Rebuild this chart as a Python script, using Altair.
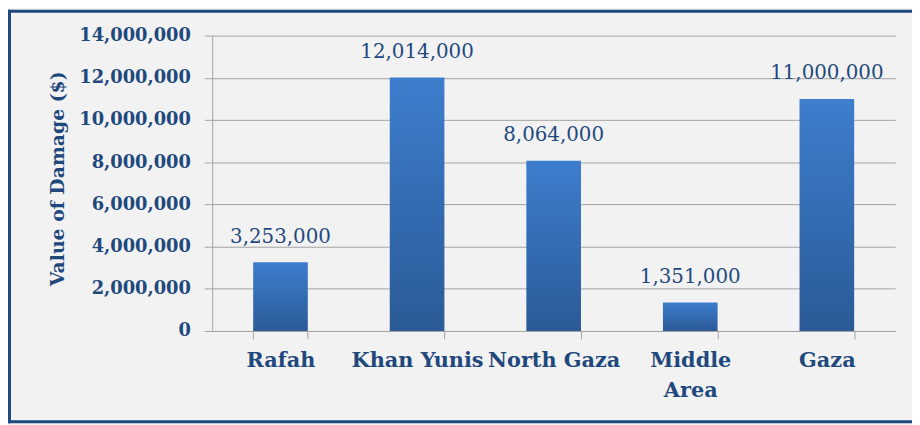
import altair as alt
import pandas as pd

# ---- data ----
categories = ["Rafah", "Khan Yunis", "North Gaza", "Middle\nArea", "Gaza"]
values = [3253000, 12014000, 8064000, 1351000, 11000000]
y_ticks = [0, 2000000, 4000000, 6000000, 8000000, 10000000, 12000000, 14000000]
y_title = "Value of Damage ($)"

df = pd.DataFrame({"region": categories, "damage": values})

# ---- style ----
TEXT = "#1f497d"
GRID = "#a3a3a3"
BG = "#f2f2f2"
FRAME = "#1f497d"
FONT = "DejaVu Serif"

W, H = 689, 298
PAD = {"left": 206, "top": 26, "right": 17, "bottom": 93}
TOTAL_W = W + PAD["left"] + PAD["right"]
TOTAL_H = H + PAD["top"] + PAD["bottom"]

x_enc = alt.X(
    "region:N",
    sort=categories,
    scale=alt.Scale(paddingInner=0.6, paddingOuter=0.3),
    axis=alt.Axis(
        title=None,
        labelAngle=0,
        tickBand="extent",
        tickSize=8,
        tickColor=GRID,
        domainColor=GRID,
        labelFont=FONT,
        labelFontSize=21,
        labelFontWeight="bold",
        labelColor=TEXT,
        labelPadding=11,
        labelLineHeight=30,
        labelExpr="split(datum.label, '\\n')",
    ),
)

y_enc = alt.Y(
    "damage:Q",
    scale=alt.Scale(domain=[0, 14000000], nice=False),
    axis=alt.Axis(
        values=y_ticks,
        format=",d",
        tickSize=8,
        tickColor=GRID,
        domainColor=GRID,
        grid=True,
        gridColor=GRID,
        labelFont=FONT,
        labelFontSize=18,
        labelFontWeight="bold",
        labelColor=TEXT,
        labelPadding=14,
        title=y_title,
        titleFont=FONT,
        titleFontSize=19,
        titleFontWeight="bold",
        titleColor=TEXT,
        titleAngle=-90,
        titleX=-156,
        titleY=144,
        titleAlign="center",
        titleBaseline="middle",
    ),
)

bars = alt.Chart(df).mark_bar(
    color=alt.Gradient(
        gradient="linear",
        stops=[
            alt.GradientStop(color="#3d7ecd", offset=0),
            alt.GradientStop(color="#2b5a97", offset=1),
        ],
        x1=0, x2=0, y1=0, y2=1,
    )
).encode(x=x_enc, y=y_enc)

labels = alt.Chart(df).mark_text(
    dy=-20, baseline="alphabetic", font=FONT, fontSize=20, color=TEXT
).encode(x=x_enc, y=y_enc, text=alt.Text("damage:Q", format=",d"))

frame_df = pd.DataFrame({"k": [0]})
left_rule = alt.Chart(frame_df).mark_rule(color=FRAME, strokeWidth=3).encode(
    x=alt.value(1.5 - PAD["left"]),
    y=alt.value(-PAD["top"]),
    y2=alt.value(TOTAL_H - PAD["top"]),
)
top_rule = alt.Chart(frame_df).mark_rule(color=FRAME, strokeWidth=3).encode(
    x=alt.value(-PAD["left"]),
    x2=alt.value(TOTAL_W - PAD["left"]),
    y=alt.value(1.5 - PAD["top"]),
)
bottom_rule = alt.Chart(frame_df).mark_rule(color=FRAME, strokeWidth=3).encode(
    x=alt.value(-PAD["left"]),
    x2=alt.value(TOTAL_W - PAD["left"]),
    y=alt.value(TOTAL_H - PAD["top"] - 1.5),
)

chart = alt.layer(bars, labels, left_rule, top_rule, bottom_rule).properties(
    width=W,
    height=H,
    padding=PAD,
    autosize=alt.AutoSizeParams(type="none"),
    background=BG,
).configure_view(stroke=None)

chart.save("out.html", embed_options={"renderer": "svg", "actions": False})
